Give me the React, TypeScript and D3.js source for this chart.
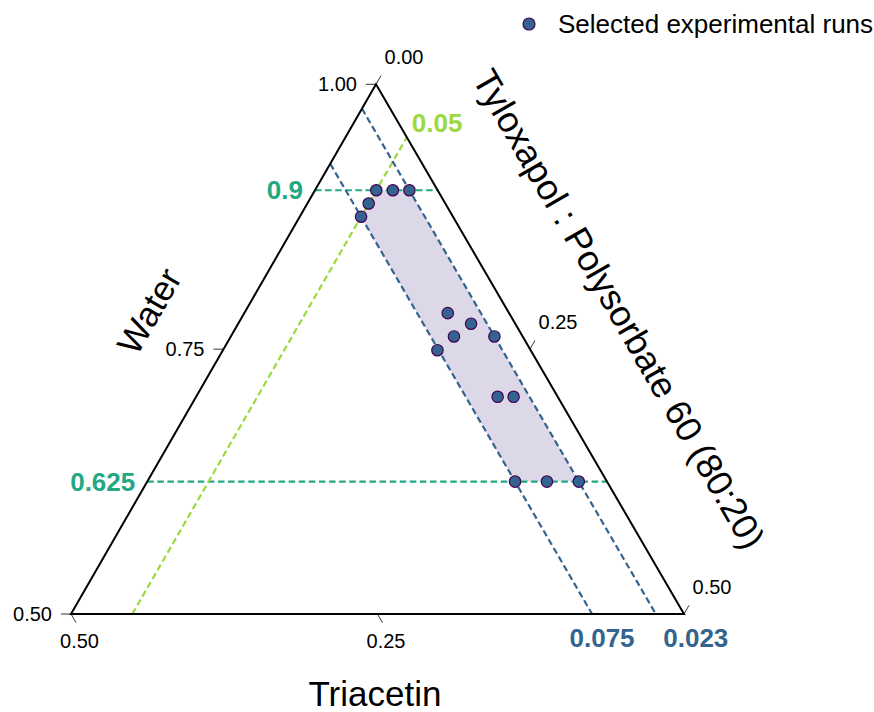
import React from "react";
import * as d3 from "d3";

// Selected experimental runs (mass fractions)
const water = [0.9, 0.9, 0.9, 0.8875, 0.875, 0.784, 0.774, 0.762, 0.762, 0.749, 0.705, 0.705, 0.625, 0.625, 0.625];
const tyloxapol = [0.05, 0.0635, 0.077, 0.05, 0.05, 0.166, 0.19, 0.182, 0.215, 0.175, 0.246, 0.259, 0.3, 0.326, 0.352];
const triacetin = [0.05, 0.0365, 0.023, 0.0625, 0.075, 0.05, 0.036, 0.056, 0.023, 0.076, 0.049, 0.036, 0.075, 0.049, 0.023];

// Constraint lines
const waterLimits = [0.9, 0.625];
const waterLimitLabels = ["0.9", "0.625"];
const triacetinLimits = [0.075, 0.023];
const triacetinLimitLabels = ["0.075", "0.023"];
const tyloxapolLimits = [0.05];
const tyloxapolLimitLabels = ["0.05"];

// Axis ticks
const waterTicks = [1.0, 0.75, 0.5];
const tyloxapolTicks = [0.0, 0.25, 0.5];
const triacetinTicks = [0.5, 0.25];

const FONT = "'Liberation Sans', Arial, Helvetica, sans-serif";
const TEAL = "#22a884";
const LIME = "#9bd93c";
const BLUE = "#33648f";

// Triangle vertices (pixel space)
const TOP = { x: 376, y: 84.3 };
const BL = { x: 71, y: 614 };
const BR = { x: 684, y: 614 };

const wScale = d3.scaleLinear().domain([0.5, 1]).range([0, 1]);
const cScale = d3.scaleLinear().domain([0, 0.5]).range([0, 1]);

function proj(w: number, t: number, a: number) {
  const wt = wScale(w);
  const wb = cScale(t);
  const wa = cScale(a);
  const s = wt + wb + wa;
  return {
    x: (TOP.x * wt + BL.x * wa + BR.x * wb) / s,
    y: (TOP.y * wt + BL.y * wa + BR.y * wb) / s,
  };
}

export default function App() {
  const tri = [proj(1, 0, 0), proj(0.5, 0, 0.5), proj(0.5, 0.5, 0)];
  const line = d3.line<{ x: number; y: number }>().x((d) => d.x).y((d) => d.y);

  // design region: W in [0.625,0.9], A in [0.023,0.075], T >= 0.05
  const [wHi, wLo] = waterLimits;
  const [aHi, aLo] = triacetinLimits;
  const tMin = tyloxapolLimits[0];
  const region = [
    proj(wHi, tMin, 1 - wHi - tMin),
    proj(wHi, 1 - wHi - aLo, aLo),
    proj(wLo, 1 - wLo - aLo, aLo),
    proj(wLo, 1 - wLo - aHi, aHi),
    proj(1 - tMin - aHi, tMin, aHi),
  ];

  const dash = "6.5,3.6";
  const tickLen = 10;
  const s3 = Math.sqrt(3) / 2;

  return (
    <svg
      width={874}
      height={712}
      style={{ position: "absolute", left: 0, top: 0 }}
      fontFamily={FONT}
    >
      <rect width={874} height={712} fill="#ffffff" />

      {/* design region */}
      <path d={line(region) + "Z"} fill="#dcd8e8" stroke="none" />

      {/* water constraint lines */}
      {waterLimits.map((w, i) => {
        const p1 = proj(w, 0, 1 - w);
        const p2 = proj(w, 1 - w, 0);
        return (
          <g key={"w" + i}>
            <line x1={p1.x} y1={p1.y} x2={p2.x} y2={p2.y} stroke={TEAL} strokeWidth={2.2} strokeDasharray={dash} />
            <text x={p1.x - 12} y={p1.y + 9} textAnchor="end" fontSize={26} fontWeight="bold" fill={TEAL}>
              {waterLimitLabels[i]}
            </text>
          </g>
        );
      })}

      {/* tyloxapol constraint line */}
      {tyloxapolLimits.map((t, i) => {
        const p1 = proj(0.5, t, 0.5 - t);
        const p2 = proj(1 - t, t, 0);
        return (
          <g key={"t" + i}>
            <line x1={p1.x} y1={p1.y} x2={p2.x} y2={p2.y} stroke={LIME} strokeWidth={2.2} strokeDasharray={dash} />
            <text x={p2.x + 5} y={p2.y - 5} textAnchor="start" fontSize={26} fontWeight="bold" fill={LIME}>
              {tyloxapolLimitLabels[i]}
            </text>
          </g>
        );
      })}

      {/* triacetin constraint lines */}
      {triacetinLimits.map((a, i) => {
        const p1 = proj(1 - a, 0, a);
        const p2 = proj(0.5, 0.5 - a, a);
        const dx = i === 0 ? 10 : 40;
        return (
          <g key={"a" + i}>
            <line x1={p1.x} y1={p1.y} x2={p2.x} y2={p2.y} stroke={BLUE} strokeWidth={2.2} strokeDasharray={dash} />
            <text x={p2.x + dx} y={p2.y + 33} textAnchor="middle" fontSize={26} fontWeight="bold" fill={BLUE}>
              {triacetinLimitLabels[i]}
            </text>
          </g>
        );
      })}

      {/* triangle */}
      <path d={line(tri) + "Z"} fill="none" stroke="#000" strokeWidth={2} strokeLinejoin="miter" />

      {/* water ticks */}
      {waterTicks.map((w, i) => {
        const p = proj(w, 0, 1 - w);
        return (
          <g key={"wt" + i}>
            <line x1={p.x} y1={p.y} x2={p.x - tickLen} y2={p.y} stroke="#000" strokeWidth={0.8} />
            <text x={p.x - 19} y={p.y + 7} textAnchor="end" fontSize={20} fill="#000">
              {w.toFixed(2)}
            </text>
          </g>
        );
      })}

      {/* tyloxapol ticks */}
      {tyloxapolTicks.map((t, i) => {
        const p = proj(1 - t, t, 0);
        return (
          <g key={"tt" + i}>
            <line x1={p.x} y1={p.y} x2={p.x + tickLen * 0.5} y2={p.y - tickLen * s3} stroke="#000" strokeWidth={0.8} />
            <text x={p.x + 28} y={p.y - 27 + 7} textAnchor="middle" fontSize={20} fill="#000">
              {t.toFixed(2)}
            </text>
          </g>
        );
      })}

      {/* triacetin ticks */}
      {triacetinTicks.map((a, i) => {
        const p = proj(0.5, 0.5 - a, a);
        return (
          <g key={"at" + i}>
            <line x1={p.x} y1={p.y} x2={p.x + tickLen * 0.5} y2={p.y + tickLen * s3} stroke="#000" strokeWidth={0.8} />
            <text x={p.x + 8.5} y={p.y + 27 + 7} textAnchor="middle" fontSize={20} fill="#000">
              {a.toFixed(2)}
            </text>
          </g>
        );
      })}

      {/* points */}
      {water.map((w, i) => {
        const p = proj(w, tyloxapol[i], triacetin[i]);
        return <circle key={"p" + i} cx={p.x} cy={p.y} r={5.7} fill={BLUE} stroke="#440154" strokeWidth={1.2} />;
      })}

      {/* axis titles */}
      <text x={0} y={0} transform="translate(149,311) rotate(-60)" textAnchor="middle" dominantBaseline="central" fontSize={35} fill="#000">
        Water
      </text>
      <text x={0} y={0} transform="translate(619,309) rotate(60)" textAnchor="middle" dominantBaseline="central" fontSize={36} fill="#000">
        Tyloxapol : Polysorbate 60 (80:20)
      </text>
      <text x={375} y={706} textAnchor="middle" fontSize={35} fill="#000">
        Triacetin
      </text>

      {/* legend */}
      <circle cx={529} cy={24} r={6} fill={BLUE} stroke="#440154" strokeWidth={1.2} />
      <text x={558} y={33} fontSize={26} fill="#000">
        Selected experimental runs
      </text>
    </svg>
  );
}
